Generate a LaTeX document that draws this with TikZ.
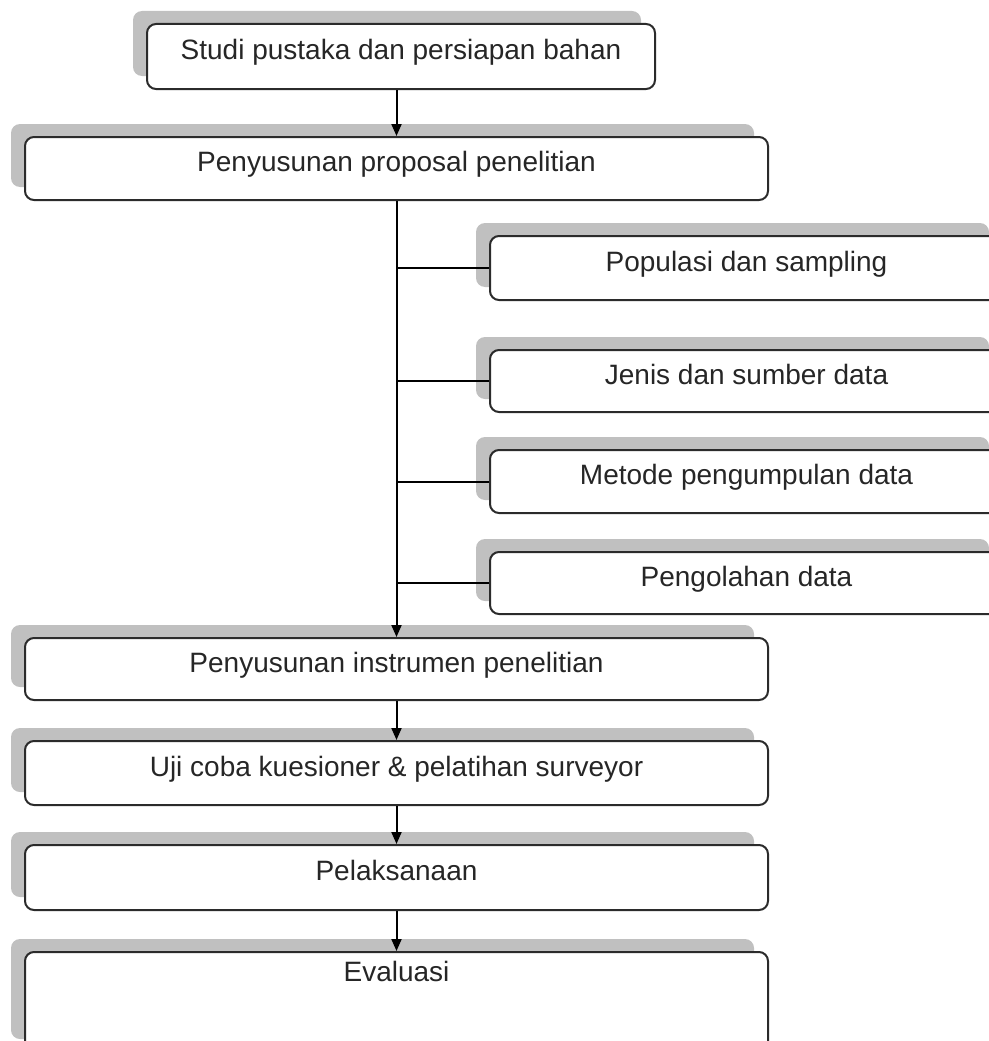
\documentclass[tikz,border=0pt]{standalone}
\usepackage{fontspec}
\setmainfont{Liberation Sans}
\usetikzlibrary{arrows.meta,shadows}
\definecolor{borde}{HTML}{2B2B2B}
\definecolor{sombra}{HTML}{C0C0C0}
\tikzset{
  etapa/.style={draw=borde, line width=2pt, rounded corners=9pt, fill=white,
    font=\fontsize{28}{30}\selectfont, text=black!85, text height=20pt, text depth=14pt,
    drop shadow={shadow xshift=-14pt, shadow yshift=13pt, fill=sombra, opacity=1}},
  panah/.style={draw=black, line width=2pt, -{Triangle[length=12pt,width=10pt]}},
  garis/.style={draw=black, line width=2pt}
}
\begin{document}
\begin{tikzpicture}[x=1pt,y=-1pt]
        \useasboundingbox (0,0) rectangle (988,1041);
        % Etapas principales
        \node[etapa, minimum width=508pt, minimum height=65pt] (studi) at (401,56.5) {Studi pustaka dan persiapan bahan};
        \node[etapa, minimum width=743pt, minimum height=63pt] (proposal) at (396.5,168.5) {Penyusunan proposal penelitian};
        % Ramas a la derecha
        \node[etapa, minimum width=513pt, minimum height=64pt] (populasi) at (746.5,268) {Populasi dan sampling};
        \node[etapa, minimum width=513pt, minimum height=62pt] (jenis) at (746.5,381) {Jenis dan sumber data};
        \node[etapa, minimum width=513pt, minimum height=63pt] (metode) at (746.5,481.5) {Metode pengumpulan data};
        \node[etapa, minimum width=513pt, minimum height=62pt] (olah) at (746.5,583) {Pengolahan data};
        % Resto de etapas
        \node[etapa, minimum width=743pt, minimum height=62pt] (instrumen) at (396.5,669) {Penyusunan instrumen penelitian};
        \node[etapa, minimum width=743pt, minimum height=64pt] (ujicoba) at (396.5,773) {Uji coba kuesioner \& pelatihan surveyor};
        \node[etapa, minimum width=743pt, minimum height=65pt] (pelaksanaan) at (396.5,877.5) {Pelaksanaan};
        \node[etapa, minimum width=743pt, minimum height=100pt, text depth=62pt] (evaluasi) at (396.5,1002) {Evaluasi};
        % Flechas
        \draw[panah] (studi.south -| proposal.north) -- (proposal.north);
        \draw[panah] (proposal.south) -- (instrumen.north);
        \draw[garis] (populasi.west -| proposal.south) -- (populasi.west);
        \draw[garis] (jenis.west -| proposal.south) -- (jenis.west);
        \draw[garis] (metode.west -| proposal.south) -- (metode.west);
        \draw[garis] (olah.west -| proposal.south) -- (olah.west);
        \draw[panah] (instrumen.south) -- (ujicoba.north);
        \draw[panah] (ujicoba.south) -- (pelaksanaan.north);
        \draw[panah] (pelaksanaan.south) -- (evaluasi.north);
    \end{tikzpicture}
\end{document}
